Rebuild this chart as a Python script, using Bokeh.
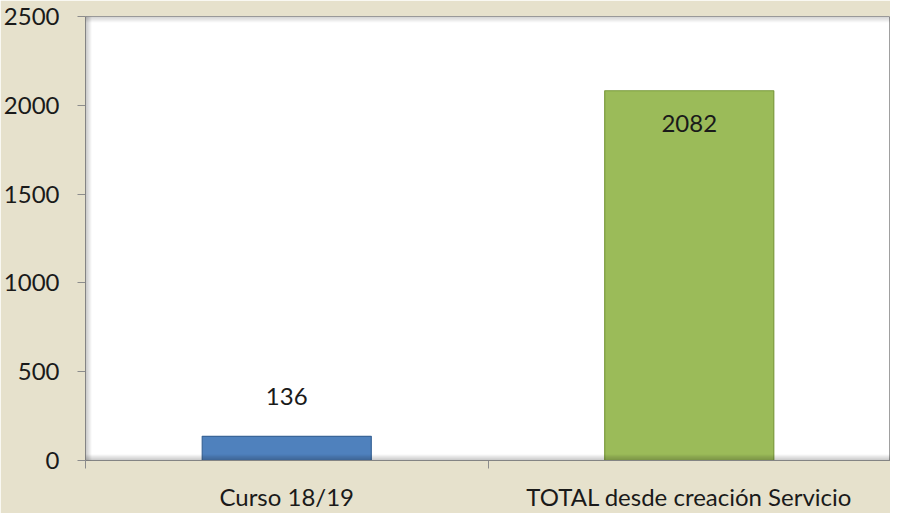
from bokeh.plotting import figure
from bokeh.models import FixedTicker, Range1d, BoxAnnotation, ColumnDataSource
from bokeh.core.properties import value
from bokeh.embed import file_html
from bokeh.resources import INLINE

categories = ["Curso 18/19", "TOTAL desde creación Servicio"]
values = [136, 2082]
colors = ["#4F81BD", "#9BBB59"]
edge_colors = ["#3A6598", "#7A9A3C"]
y_ticks = [0, 500, 1000, 1500, 2000, 2500]

BG = "#E6E1CC"
FONT = "Lato"
FS = "24px"

xs = [i + 0.5 for i in range(len(categories))]

p = figure(width=890, height=513, output_backend="svg", toolbar_location=None,
           x_range=Range1d(0, len(categories)), y_range=Range1d(0, 2500),
           background_fill_color="white", border_fill_color=BG,
           min_border_left=81, min_border_right=0, min_border_top=16, min_border_bottom=44)
p.outline_line_color = "#A0A0A0"
p.grid.grid_line_color = None

# inner shadow of the plot area (decoration)
px_x = len(categories) / 809.0
px_y = 2500 / 453.0
for k in range(6):
    a = 0.22 * (1 - k / 6.0)
    p.add_layout(BoxAnnotation(left=k * px_x, right=(k + 1) * px_x, fill_color="black", fill_alpha=a, line_alpha=0))
    p.add_layout(BoxAnnotation(bottom=k * px_y, top=(k + 1) * px_y, fill_color="black", fill_alpha=a, line_alpha=0))
    p.add_layout(BoxAnnotation(top=2500 - k * px_y, bottom=2500 - (k + 1) * px_y, fill_color="black", fill_alpha=a * 0.8, line_alpha=0))

src = ColumnDataSource(dict(x=xs, top=values, color=colors, edge=edge_colors))
p.vbar(x="x", top="top", width=0.42, source=src, fill_color="color", line_color="edge", line_width=1.2)

lbl_src = ColumnDataSource(dict(x=[xs[0]], y=[values[0]], t=[str(values[0])]))
p.text(x="x", y="y", text="t", source=lbl_src, y_offset=-40, text_align="center", text_baseline="middle",
       text_font=value(FONT), text_font_size=FS, text_color="#1a1a1a")
lbl_src2 = ColumnDataSource(dict(x=[xs[1]], y=[values[1]], t=[str(values[1])]))
p.text(x="x", y="y", text="t", source=lbl_src2, y_offset=33, text_align="center", text_baseline="middle",
       text_font=value(FONT), text_font_size=FS, text_color="#1a1a1a")

# y axis
p.yaxis.ticker = FixedTicker(ticks=y_ticks)
p.yaxis.axis_line_color = "#8C8C8C"
p.yaxis.major_tick_line_color = "#8C8C8C"
p.yaxis.major_tick_out = 8
p.yaxis.major_tick_in = 0
p.yaxis.minor_tick_line_color = None
p.yaxis.major_label_standoff = 18
p.yaxis.major_label_text_font = FONT
p.yaxis.major_label_text_font_size = FS
p.yaxis.major_label_text_color = "#1a1a1a"

# x axis: labels at category centres, ticks at category boundaries
p.xaxis.ticker = FixedTicker(ticks=xs, minor_ticks=list(range(len(categories) + 1)))
p.xaxis.major_label_overrides = {x: c for x, c in zip(xs, categories)}
p.xaxis.major_tick_out = 0
p.xaxis.major_tick_in = 0
p.xaxis.minor_tick_out = 8
p.xaxis.minor_tick_in = 0
p.xaxis.minor_tick_line_color = "#8C8C8C"
p.xaxis.axis_line_color = "#8C8C8C"
p.xaxis.major_label_standoff = 13
p.xaxis.major_label_text_font = FONT
p.xaxis.major_label_text_font_size = FS
p.xaxis.major_label_text_color = "#1a1a1a"

open("out.html", "w").write(file_html(p, INLINE))
